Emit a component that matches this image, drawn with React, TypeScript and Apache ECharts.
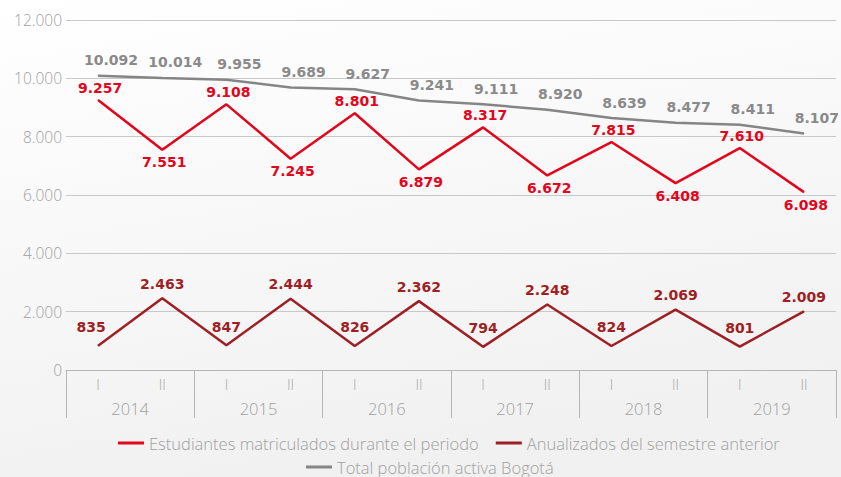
import React, { useEffect, useRef } from "react";
import * as echarts from "echarts";

const semesters = ["I", "II", "I", "II", "I", "II", "I", "II", "I", "II", "I", "II"];
const years = ["2014", "2015", "2016", "2017", "2018", "2019"];
const yTicks = { min: 0, max: 12000, interval: 2000 };

const totalBogota = [10092, 10014, 9955, 9689, 9627, 9241, 9111, 8920, 8639, 8477, 8411, 8107];
const matriculados = [9257, 7551, 9108, 7245, 8801, 6879, 8317, 6672, 7815, 6408, 7610, 6098];
const anualizados = [835, 2463, 847, 2444, 826, 2362, 794, 2248, 824, 2069, 801, 2009];

const nameRed = "Estudiantes matriculados durante el periodo";
const nameDark = "Anualizados del semestre anterior";
const nameGray = "Total población activa Bogotá";

const fmt = (v: number) => String(v).replace(/\B(?=(\d{3})+(?!\d))/g, ".");

const LIGHT = "'Open Sans', sans-serif";
const BOLD = "'DejaVu Sans', sans-serif";

export default function App() {
  const ref = useRef<HTMLDivElement>(null);
  useEffect(() => {
    if (!ref.current) return;
    const chart = echarts.init(ref.current, undefined, { renderer: "svg" });
    const labelFmt = (p: any) => fmt(p.value);
    const legendText = { color: "#a0a0a0", fontSize: 16.5, fontWeight: 300, fontFamily: LIGHT, lineHeight: 18 };
    chart.setOption({
      animation: false,
      backgroundColor: {
        type: "linear", x: 0, y: 0, x2: 0.3, y2: 1,
        colorStops: [
          { offset: 0, color: "#ffffff" },
          { offset: 1, color: "#f1f1f1" },
        ],
      },
      textStyle: { fontFamily: LIGHT },
      grid: { left: 66, right: 5, top: 20, bottom: 107 },
      xAxis: [
        {
          type: "category",
          data: semesters,
          boundaryGap: true,
          axisLine: { show: true, lineStyle: { color: "#b5b5b5", width: 1 } },
          axisTick: { show: false },
          axisLabel: { color: "#a5a5a5", fontSize: 14, fontWeight: 300, margin: 7, fontFamily: LIGHT },
        },
        {
          type: "category",
          data: years,
          position: "bottom",
          boundaryGap: true,
          axisLine: { show: false },
          axisTick: { show: true, length: 48, interval: 0, lineStyle: { color: "#b5b5b5", width: 1 } },
          axisLabel: { color: "#a0a0a0", fontSize: 16.5, fontWeight: 300, margin: 30, interval: 0, fontFamily: LIGHT },
        },
      ],
      yAxis: {
        type: "value",
        min: yTicks.min,
        max: yTicks.max,
        interval: yTicks.interval,
        axisLine: { show: false },
        axisTick: { show: false },
        axisLabel: { color: "#a0a0a0", fontSize: 15.5, fontWeight: 300, margin: 4, formatter: (v: number) => fmt(v), fontFamily: LIGHT },
        splitLine: { lineStyle: { color: "#c8c8c8", width: 1 } },
      },
      legend: [
        {
          data: [nameRed, nameDark],
          left: 118,
          top: 434,
          padding: 0,
          icon: "rect",
          itemWidth: 26,
          itemHeight: 3,
          itemGap: 17,
          textStyle: legendText,
        },
        {
          data: [nameGray],
          left: 306,
          top: 458,
          padding: 0,
          icon: "rect",
          itemWidth: 26,
          itemHeight: 3,
          textStyle: legendText,
        },
      ],
      series: [
        {
          name: nameRed,
          type: "line",
          data: matriculados.map((v, i) => ({
            value: v,
            label: { position: i % 2 === 0 ? "top" : "bottom" },
          })),
          symbol: "circle",
          symbolSize: 1,
          itemStyle: { color: "#e2051b" },
          lineStyle: { color: "#e2051b", width: 2.5 },
          label: {
            show: true,
            formatter: labelFmt,
            distance: 5,
            offset: [2, 0],
            color: "#e2051b",
            fontSize: 14,
            fontWeight: "bold",
            fontFamily: BOLD,
          },
        },
        {
          name: nameDark,
          type: "line",
          data: anualizados.map((v, i) => ({
            value: v,
            label: {
              distance: i % 2 === 0 ? 11 : 7,
              offset: i === 0 ? [-7, 0] : [0, 0],
            },
          })),
          symbol: "circle",
          symbolSize: 1,
          itemStyle: { color: "#9e1f24" },
          lineStyle: { color: "#9e1f24", width: 2.5 },
          label: {
            show: true,
            formatter: labelFmt,
            position: "top",
            color: "#9e1f24",
            fontSize: 14,
            fontWeight: "bold",
            fontFamily: BOLD,
          },
        },
        {
          name: nameGray,
          type: "line",
          data: totalBogota,
          symbol: "circle",
          symbolSize: 1,
          itemStyle: { color: "#858585" },
          lineStyle: { color: "#858585", width: 2.5 },
          label: {
            show: true,
            formatter: labelFmt,
            position: "top",
            distance: 8,
            offset: [13, 0],
            color: "#8a8a8a",
            fontSize: 14,
            fontWeight: "bold",
            fontFamily: BOLD,
          },
        },
      ],
    });
    return () => chart.dispose();
  }, []);
  return (
    <div
      ref={ref}
      style={{ position: "fixed", left: 0, top: 0, width: 841, height: 477 }}
    />
  );
}
